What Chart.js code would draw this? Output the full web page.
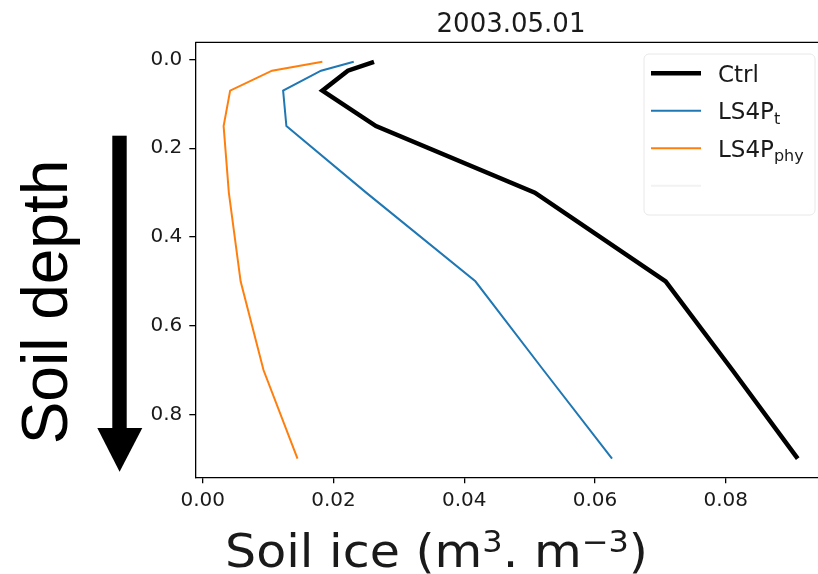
<!DOCTYPE html>
<html>
<head>
  <title>Soil ice 2003.05.01</title>
  <script src="https://cdn.jsdelivr.net/npm/chart.js@4.4.1/dist/chart.umd.min.js"></script>
  <style>
    body { margin: 0; background: #fff; }
    #wrap { width: 818px; height: 574px; position: relative; }
  </style>
</head>
<body>
  <div id="wrap"><canvas id="ice-chart"></canvas></div>

  <script>
    // Datos
    const chartTitle = '2003.05.01';
    const depth = [0.005, 0.025, 0.07, 0.15, 0.3, 0.5, 0.7, 0.9];
    const ctrlIce = [0.0262, 0.0222, 0.0183, 0.0265, 0.0508, 0.0708, 0.0810, 0.0910];
    const ls4ptIce = [0.0231, 0.0181, 0.0123, 0.0128, 0.0250, 0.0417, 0.0521, 0.0626];
    const ls4pphyIce = [0.0183, 0.0106, 0.0042, 0.0032, 0.0040, 0.0058, 0.0093, 0.0145];
    const xTicks = [0, 0.02, 0.04, 0.06, 0.08];
    const yTicks = [0, 0.2, 0.4, 0.6, 0.8];
    const legendMain = ['Ctrl', 'LS4P', 'LS4P'];
    const legendSub = ['', 't', 'phy'];

    const colors = ['#000000', '#1f77b4', '#ff7f0e'];
    const widths = [4.5, 2, 2];

    function toPoints(vals) {
      return vals.map((v, i) => ({ x: v, y: depth[i] }));
    }

    const series = [ctrlIce, ls4ptIce, ls4pphyIce];
    const datasets = series.map((vals, i) => ({
      label: legendMain[i] + legendSub[i],
      data: toPoints(vals),
      borderColor: colors[i],
      borderWidth: widths[i],
      showLine: true,
      pointRadius: 0,
      fill: false,
      order: 3 - i
    }));

    // Dibujos extra: marco superior, titulo, flecha, etiquetas y leyenda
    const decor = {
      id: 'decor',
      afterDraw(chart) {
        const ctx = chart.ctx;
        const a = chart.chartArea;
        ctx.save();

        // marco superior
        ctx.strokeStyle = '#000';
        ctx.lineWidth = 1.3;
        ctx.beginPath();
        ctx.moveTo(a.left, a.top);
        ctx.lineTo(a.right, a.top);
        ctx.stroke();

        // titulo
        ctx.fillStyle = '#1a1a1a';
        ctx.font = '26px "DejaVu Sans"';
        ctx.textAlign = 'center';
        ctx.textBaseline = 'alphabetic';
        ctx.fillText(chartTitle, 511, 31.5);

        // flecha de profundidad
        ctx.fillStyle = '#000';
        ctx.fillRect(112.3, 135.7, 14.4, 293);
        ctx.beginPath();
        ctx.moveTo(97.3, 428);
        ctx.lineTo(142.3, 428);
        ctx.lineTo(119.6, 471.7);
        ctx.closePath();
        ctx.fill();

        // etiqueta vertical
        ctx.save();
        ctx.translate(67, 302);
        ctx.rotate(-Math.PI / 2);
        ctx.font = '64px "Liberation Sans"';
        ctx.textAlign = 'center';
        ctx.fillText('Soil depth', 0, 0);
        ctx.restore();

        // titulo eje x con superindices
        const parts = [['Soil ice (m', 0], ['3', 1], ['. m', 0], ['\u22123', 1], [')', 0]];
        const mainFont = '46px "DejaVu Sans"';
        const supFont = '30px "DejaVu Sans"';
        let total = 0;
        parts.forEach(p => {
          ctx.font = p[1] ? supFont : mainFont;
          total += ctx.measureText(p[0]).width;
        });
        const sx = 423 / total;
        ctx.save();
        ctx.translate(225, 567);
        ctx.scale(sx, 1);
        ctx.fillStyle = '#1a1a1a';
        ctx.textAlign = 'left';
        let cx = 0;
        parts.forEach(p => {
          ctx.font = p[1] ? supFont : mainFont;
          ctx.fillText(p[0], cx, p[1] ? -15 : 0);
          cx += ctx.measureText(p[0]).width;
        });
        ctx.restore();

        // leyenda
        ctx.fillStyle = '#fff';
        ctx.strokeStyle = '#e8e8e8';
        ctx.lineWidth = 1;
        ctx.beginPath();
        ctx.roundRect(644, 54, 171, 161, 5);
        ctx.fill();
        ctx.stroke();

        const rows = legendMain.length + 1;
        for (let i = 0; i < rows; i++) {
          const y = 73.3 + 37.5 * i;
          ctx.beginPath();
          ctx.moveTo(651, y);
          ctx.lineTo(701, y);
          if (i < legendMain.length) {
            ctx.strokeStyle = colors[i];
            ctx.lineWidth = widths[i];
          } else {
            ctx.strokeStyle = '#f2f2f2';
            ctx.lineWidth = 2;
          }
          ctx.stroke();
          if (i >= legendMain.length) continue;
          ctx.fillStyle = '#1a1a1a';
          ctx.textAlign = 'left';
          ctx.font = '23px "DejaVu Sans"';
          ctx.fillText(legendMain[i], 718, y + 8.4);
          const w = ctx.measureText(legendMain[i]).width;
          if (legendSub[i]) {
            ctx.font = '16px "DejaVu Sans"';
            ctx.fillText(legendSub[i], 718 + w, y + 13);
          }
        }

        ctx.restore();
      }
    };

    const tickFont = { family: 'DejaVu Sans', size: 20 };

    new Chart(document.getElementById('ice-chart'), {
      type: 'scatter',
      data: { datasets: datasets },
      options: {
        responsive: true,
        maintainAspectRatio: false,
        animation: false,
        layout: { padding: { top: 42.3, left: 0, right: 0, bottom: 0 } },
        plugins: {
          legend: { display: false },
          title: { display: false },
          tooltip: { enabled: false }
        },
        scales: {
          x: {
            type: 'linear',
            position: 'bottom',
            min: -0.00113,
            max: 0.0941,
            afterFit(scale) { scale.height = 574 - 477.3; },
            afterBuildTicks(scale) { scale.ticks = xTicks.map(v => ({ value: v })); },
            grid: { drawOnChartArea: false, drawTicks: true, tickLength: 6, color: '#000', lineWidth: 1.3 },
            border: { display: true, color: '#000', width: 1.3 },
            ticks: {
              font: tickFont,
              color: '#1a1a1a',
              padding: 5,
              maxRotation: 0,
              callback: v => Number(v).toFixed(2)
            }
          },
          y: {
            type: 'linear',
            reverse: true,
            min: -0.039,
            max: 0.942,
            afterFit(scale) { scale.width = 195.3; },
            afterBuildTicks(scale) { scale.ticks = yTicks.map(v => ({ value: v })); },
            grid: { drawOnChartArea: false, drawTicks: true, tickLength: 6, color: '#000', lineWidth: 1.3 },
            border: { display: true, color: '#000', width: 1.3 },
            ticks: {
              font: tickFont,
              color: '#1a1a1a',
              padding: 7,
              callback: v => Number(v).toFixed(1)
            }
          }
        }
      },
      plugins: [decor]
    });
  </script>
</body>
</html>
